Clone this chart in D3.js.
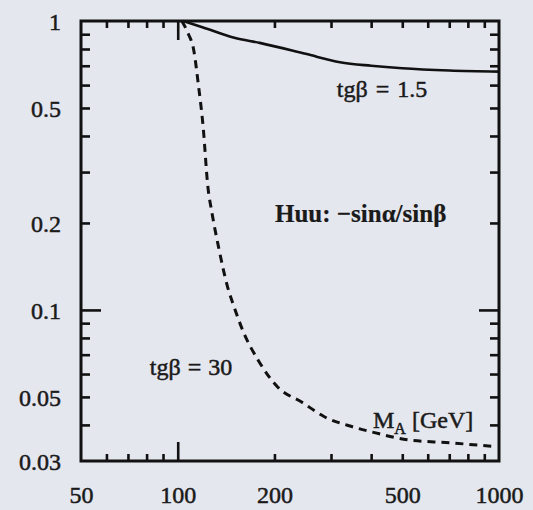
<!DOCTYPE html>
<html>
<head>
<meta charset="utf-8">
<script src="https://cdn.jsdelivr.net/npm/d3@7"></script>
<style>
  body { margin: 0; background: #e5e7ef; }
  svg { display: block; }
  text { font-family: "Liberation Serif", "DejaVu Serif", serif; fill: #1a1a1a; stroke: #1a1a1a; stroke-width: 0.5px; }
</style>
</head>
<body>
<div id="chart"></div>
<script>
// masses (GeV) and ratios
var massLow = [104, 120, 150, 180, 250, 320, 400, 500, 700, 1000];
var ratioLow = [1.0, 0.95, 0.875, 0.84, 0.77, 0.72, 0.70, 0.686, 0.674, 0.668];

var massHigh = [103, 108, 112, 116, 120, 124, 128, 134, 143, 150, 160, 178, 205, 243, 287, 350, 410, 520, 700, 980];
var ratioHigh = [1.0, 0.9, 0.8, 0.6, 0.43, 0.27, 0.215, 0.165, 0.12, 0.102, 0.084, 0.067, 0.054, 0.048, 0.0426, 0.0394, 0.0376, 0.0355, 0.0347, 0.0336];

var xLabels = [50, 100, 200, 500, 1000];
var xMinor = [60, 70, 80, 90, 200, 300, 400, 500, 600, 700, 800, 900];
var xLong = [100];
var yLabels = [1, 0.5, 0.2, 0.1, 0.05, 0.03];
var yMinor = [0.9, 0.8, 0.7, 0.6, 0.5, 0.4, 0.3, 0.2, 0.09, 0.08, 0.07, 0.06, 0.05, 0.04];
var yLong = [0.1];

var width = 533, height = 510;
var plotLeft = 81, plotRight = 499, plotTop = 21, plotBottom = 461;

var svg = d3.select("#chart").append("svg")
    .attr("width", width)
    .attr("height", height);

var x = d3.scaleLog().domain([50, 1000]).range([plotLeft, plotRight]);
var y = d3.scaleLog().domain([0.03, 1]).range([plotBottom, plotTop]);

function ticks(axis, values, size, tx, ty) {
  var g = svg.append("g")
      .attr("transform", "translate(" + tx + "," + ty + ")")
      .call(axis.tickValues(values).tickSize(size).tickFormat(""));
  g.select(".domain").remove();
  g.selectAll("line").attr("stroke", "#111").attr("stroke-width", 2.6);
  return g;
}

// inward ticks on all four sides
ticks(d3.axisBottom(x), xMinor, -7, 0, plotBottom);
ticks(d3.axisBottom(x), xLong, -19, 0, plotBottom);
ticks(d3.axisTop(x), xMinor, -7, 0, plotTop);
ticks(d3.axisTop(x), xLong, -19, 0, plotTop);
ticks(d3.axisLeft(y), yMinor, -9, plotLeft, 0);
ticks(d3.axisLeft(y), yLong, -20, plotLeft, 0);
ticks(d3.axisRight(y), yMinor, -9, plotRight, 0);
ticks(d3.axisRight(y), yLong, -20, plotRight, 0);

// tick labels
var xl = svg.append("g")
    .attr("transform", "translate(0," + plotBottom + ")")
    .call(d3.axisBottom(x).tickValues(xLabels).tickSize(0).tickPadding(0).tickFormat(d3.format("d")));
xl.select(".domain").remove();
xl.selectAll("text").attr("dy", null).attr("y", 42).style("font-size", "24px").attr("fill", "#1a1a1a");

var yl = svg.append("g")
    .attr("transform", "translate(" + plotLeft + ",0)")
    .call(d3.axisLeft(y).tickValues(yLabels).tickSize(0).tickPadding(0).tickFormat(function(d) { return String(d); }));
yl.select(".domain").remove();
yl.selectAll("text").attr("x", -20).attr("dy", "0.36em").style("font-size", "24px").attr("fill", "#1a1a1a");

// curves
var line = d3.line()
    .x(function(d) { return x(d[0]); })
    .y(function(d) { return y(d[1]); })
    .curve(d3.curveMonotoneX);

svg.append("path")
    .datum(d3.zip(massLow, ratioLow))
    .attr("fill", "none")
    .attr("stroke", "#111")
    .attr("stroke-width", 2.6)
    .attr("d", line);

svg.append("path")
    .datum(d3.zip(massHigh, ratioHigh))
    .attr("fill", "none")
    .attr("stroke", "#111")
    .attr("stroke-width", 3)
    .attr("stroke-dasharray", "8,6")
    .attr("d", line);

// frame
svg.append("rect")
    .attr("x", plotLeft).attr("y", plotTop)
    .attr("width", plotRight - plotLeft).attr("height", plotBottom - plotTop)
    .attr("fill", "none")
    .attr("stroke", "#111")
    .attr("stroke-width", 3);

// annotations
svg.append("text").attr("x", 382).attr("y", 97).attr("text-anchor", "middle")
    .style("font-size", "24px").style("word-spacing", "2px").text("tgβ = 1.5");
svg.append("text").attr("x", 191).attr("y", 375).attr("text-anchor", "middle")
    .style("font-size", "24px").style("word-spacing", "1px").text("tgβ = 30");
svg.append("text").attr("x", 275).attr("y", 222)
    .style("font-size", "25px").style("font-weight", "bold").style("stroke-width", "0.2px").text("Huu: −sinα/sinβ");

var ma = svg.append("text").attr("x", 373).attr("y", 428).style("font-size", "24px");
ma.append("tspan").text("M");
ma.append("tspan").attr("dy", 6).style("font-size", "16px").text("A");
ma.append("tspan").attr("dy", -6).text(" [GeV]");
</script>
</body>
</html>
